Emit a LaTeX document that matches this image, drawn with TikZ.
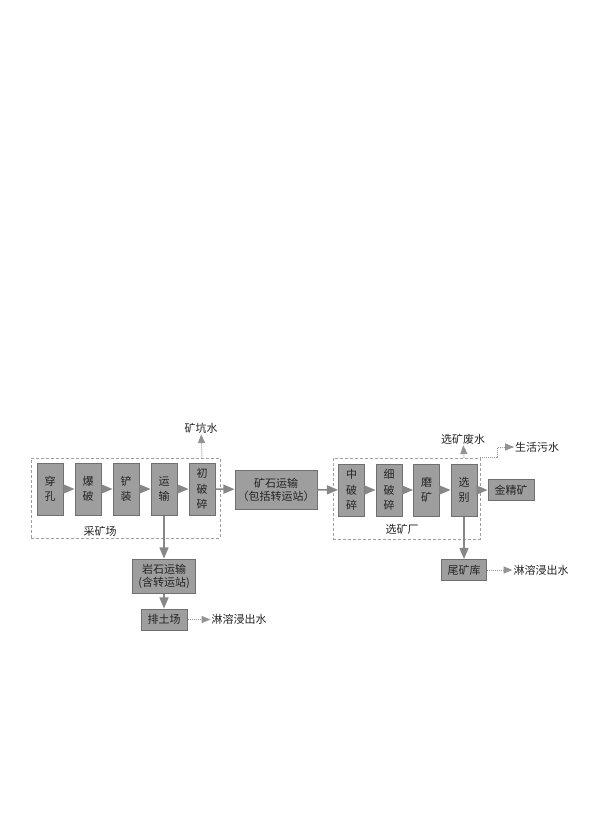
\documentclass[tikz,border=0pt]{standalone}
\usepackage{fontspec}
\setmainfont{Noto Sans CJK SC}
\usetikzlibrary{arrows,positioning}

\definecolor{boxfill}{RGB}{158,158,158}
\definecolor{boxline}{RGB}{112,112,112}
\definecolor{lineg}{RGB}{135,135,135}
\definecolor{txt}{RGB}{35,35,35}

\tikzset{
	proc/.style={draw=boxline, line width=1pt, fill=boxfill, inner sep=0pt, align=center, text=txt, font=\fontsize{11}{13}\selectfont},
	tall/.style={proc, minimum width=26pt, minimum height=52pt, font=\fontsize{11}{15.5}\selectfont},
	flat/.style={proc, minimum width=46pt, minimum height=21pt},
	frame/.style={draw=lineg!80, densely dashed, line width=0.8pt, inner sep=0pt},
	flow/.style={->, >=triangle 45, color=lineg, line width=1.6pt},
	waste/.style={->, >=triangle 45, color=lineg!90, densely dotted, line width=1pt},
	lbl/.style={text=txt, font=\fontsize{11}{13}\selectfont, inner sep=1pt}
}

\begin{document}
\begin{tikzpicture}[x=1pt, y=-1pt, node distance=38pt, on grid]
	\useasboundingbox (0,0) rectangle (600,835);

	\node [frame, minimum width=189pt, minimum height=80pt] (mine) at (125.5,498) {};
	\node [tall] (1) at (50,489) {穿\\孔};
	\node [tall] (2) [right=of 1] {爆\\破};
	\node [tall] (3) [right=of 2] {铲\\装};
	\node [tall] (4) [right=of 3] {运\\输};
	\node [tall] (5) [right=of 4] {初\\破\\碎};
	\node [lbl] (mname) at (100,531) {采矿场};

	\node [proc, minimum width=82pt, minimum height=39pt] (6) at (276,489.5) {矿石运输\\（包括转运站）};

	\node [frame, minimum width=147pt, minimum height=81pt] (plant) at (406.5,498.5) {};
	\node [tall] (7) at (351.5,490) {中\\破\\碎};
	\node [tall] (8) [right=37.5pt of 7] {细\\破\\碎};
	\node [tall] (9) [right=37.5pt of 8] {磨\\矿};
	\node [tall] (10) [right=37.5pt of 9] {选\\别};
	\node [flat] (11) [right=47pt of 10] {金精矿};
	\node [lbl] (pname) at (402,529) {选矿厂};

	\node [proc, minimum width=63pt, minimum height=34pt] (12) [below=87pt of 4] {岩石运输\\(含转运站)};
	\node [flat] (13) [below=43.5pt of 12] {排土场};
	\node [flat, minimum width=45pt] (14) [below=80pt of 10] {尾矿库};

	\node [lbl] (w1) at (201,428) {矿坑水};
	\node [lbl] (w2) at (463,439) {选矿废水};
	\node [lbl] (w3) at (537,447) {生活污水};
	\node [lbl] (w4) [right=75pt of 13] {淋溶浸出水};
	\node [lbl] (w5) [right=77pt of 14] {淋溶浸出水};

	\path[flow]
		(1) edge (2)
		(2) edge (3)
		(3) edge (4)
		(4) edge (5)
		(5) edge (6)
		(6) edge (7)
		(7) edge (8)
		(8) edge (9)
		(9) edge (10)
		(10) edge (11)
		(4) edge (12)
		(12) edge (13)
		(10) edge (14)
		;

	\path[waste]
		(5 |- mine.north) edge (w1)
		(10 |- plant.north) edge (w2)
		(13) edge (w4)
		(14) edge (w5)
		;
	\draw[waste] (plant.north east) -- ++(17,0) |- (w3);

\end{tikzpicture}
\end{document}
